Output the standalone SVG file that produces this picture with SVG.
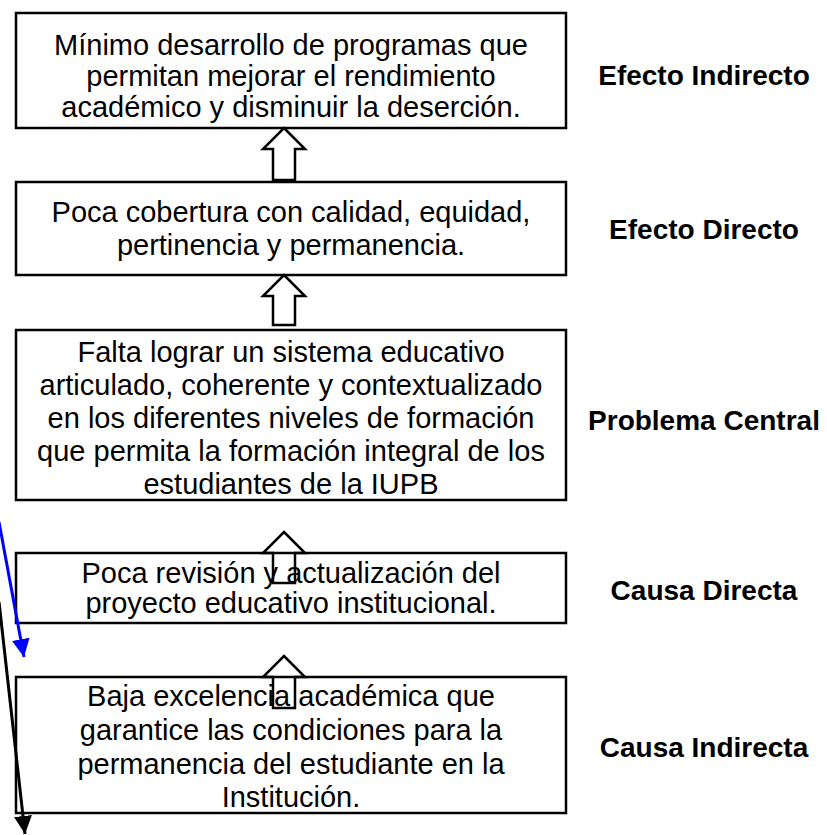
<svg xmlns="http://www.w3.org/2000/svg" width="827" height="835" viewBox="0 0 827 835">
<style>
.box{fill:#fff;stroke:#000;stroke-width:2.5}
.t{font-family:"Liberation Sans",Arial,sans-serif;font-size:29px;fill:#000;text-anchor:middle}
.lbl{font-family:"Liberation Sans",Arial,sans-serif;font-size:28px;font-weight:bold;fill:#000;text-anchor:middle}
.up{fill:none;stroke:#000;stroke-width:2.5;stroke-linejoin:miter}
</style>
<defs>
<marker id="mb" markerWidth="6" markerHeight="6" refX="6" refY="3" orient="auto" markerUnits="strokeWidth"><path d="M0,0 L6,3 L0,6 z" fill="#0000ff"/></marker>
<marker id="mk" markerWidth="6" markerHeight="6" refX="6" refY="3" orient="auto" markerUnits="strokeWidth"><path d="M0,0 L6,3 L0,6 z" fill="#000"/></marker>
</defs>
<g id="n1"><rect class="box" x="16" y="13" width="550" height="115"/>
<text class="t" x="291" y="55">Mínimo desarrollo de programas que</text>
<text class="t" x="291" y="86">permitan mejorar el rendimiento</text>
<text class="t" x="291" y="117">académico y disminuir la deserción.</text></g>
<g id="n2"><rect class="box" x="16" y="182" width="550" height="93"/>
<text class="t" x="291" y="222">Poca cobertura con calidad, equidad,</text>
<text class="t" x="291" y="255">pertinencia y permanencia.</text></g>
<g id="n3"><rect class="box" x="16" y="330" width="550" height="170"/>
<text class="t" x="291" y="362">Falta lograr un sistema educativo</text>
<text class="t" x="291" y="395">articulado, coherente y contextualizado</text>
<text class="t" x="291" y="428">en los diferentes niveles de formación</text>
<text class="t" x="291" y="461">que permita la formación integral de los</text>
<text class="t" x="291" y="494">estudiantes de la IUPB</text></g>
<g id="n4"><rect class="box" x="16" y="553" width="550" height="70"/>
<text class="t" x="291" y="583">Poca revisión y actualización del</text>
<text class="t" x="291" y="613">proyecto educativo institucional.</text></g>
<g id="n5"><rect class="box" x="16" y="677" width="550" height="136"/>
<text class="t" x="291" y="706">Baja excelencia académica que</text>
<text class="t" x="291" y="740">garantice las condiciones para la</text>
<text class="t" x="291" y="774">permanencia del estudiante en la</text>
<text class="t" x="291" y="807">Institución.</text></g>
<g id="l1"><text class="lbl" x="704" y="85">Efecto Indirecto</text></g>
<g id="l2"><text class="lbl" x="704" y="239">Efecto Directo</text></g>
<g id="l3"><text class="lbl" x="704" y="430">Problema Central</text></g>
<g id="l4"><text class="lbl" x="704" y="600">Causa Directa</text></g>
<g id="l5"><text class="lbl" x="704" y="757">Causa Indirecta</text></g>
<g id="connectors">
<path class="up" d="M284,128 L305,149 L295,149 L295,180 L273,180 L273,149 L263,149 Z"/>
<path class="up" d="M284,275 L305,296 L295,296 L295,325 L273,325 L273,296 L263,296 Z"/>
<path class="up" d="M284,532 L305,553 L295,553 L295,583 L273,583 L273,553 L263,553 Z"/>
<path class="up" d="M284,656 L305,677 L295,677 L295,708 L273,708 L273,677 L263,677 Z"/>
<line x1="-1" y1="522" x2="24" y2="657" stroke="#0000ff" stroke-width="3" marker-end="url(#mb)"/>
<line x1="-1" y1="602" x2="25" y2="834" stroke="#000" stroke-width="3" marker-end="url(#mk)"/>
</g>
</svg>
